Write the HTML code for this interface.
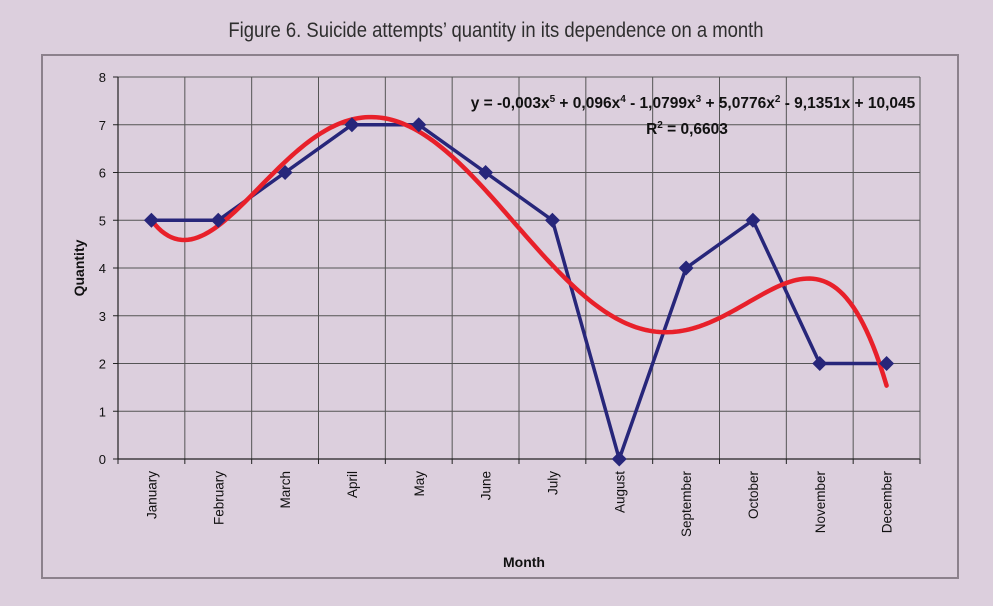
<!DOCTYPE html>
<html><head><meta charset="utf-8"><style>
html,body{margin:0;padding:0;background:#dccfdd;}
body{width:993px;height:601px;overflow:hidden;font-family:"Liberation Sans",sans-serif;}
</style></head><body>
<svg id="chart" width="993" height="601">
<rect x="0" y="0" width="993" height="601" fill="#dccfdd"/>
<text x="496" y="37" text-anchor="middle" font-size="21" fill="#2e2e2e" transform="translate(496 0) scale(0.88 1) translate(-496 0)">Figure 6. Suicide attempts’ quantity in its dependence on a month</text>
<rect x="42" y="55" width="916" height="523" fill="none" stroke="#8c818c" stroke-width="2"/>
<g id="grid"></g>
<g id="axes"></g>
<g id="series"></g>
<text x="693" y="108" text-anchor="middle" font-size="15.5" font-weight="bold" fill="#111">y = -0,003x<tspan dy="-6" font-size="10">5</tspan><tspan dy="6"> + 0,096x</tspan><tspan dy="-6" font-size="10">4</tspan><tspan dy="6"> - 1,0799x</tspan><tspan dy="-6" font-size="10">3</tspan><tspan dy="6"> + 5,0776x</tspan><tspan dy="-6" font-size="10">2</tspan><tspan dy="6"> - 9,1351x + 10,045</tspan></text>
<text x="687" y="134" text-anchor="middle" font-size="15.5" font-weight="bold" fill="#111">R<tspan dy="-6" font-size="10">2</tspan><tspan dy="6"> = 0,6603</tspan></text>
<text x="84" y="268" text-anchor="middle" font-size="14" font-weight="bold" fill="#111" transform="rotate(-90 84 268)">Quantity</text>
<text x="524" y="567" text-anchor="middle" font-size="14" font-weight="bold" fill="#111">Month</text>
</svg>
<script>
const months = ["January","February","March","April","May","June","July","August","September","October","November","December"];
const quantities = [5,5,6,7,7,6,5,0,4,5,2,2];
const yTicks = [0,1,2,3,4,5,6,7,8];
const NS = "http://www.w3.org/2000/svg";
const L = 118, R = 920, T = 77, B = 459;
const yMax = 8;
const band = (R - L) / months.length;
function xPos(i){ return L + band * (i + 0.5); }
function xCont(x){ return L + band * (x - 0.5); }
function yPos(v){ return B - (v / yMax) * (B - T); }
function mk(tag, attrs, parent){ const e = document.createElementNS(NS, tag); for (const k in attrs) e.setAttribute(k, attrs[k]); parent.appendChild(e); return e; }
const grid = document.getElementById('grid'), axes = document.getElementById('axes'), series = document.getElementById('series');
yTicks.forEach(v => {
  const y = yPos(v);
  if (v > 0) { const g = mk('line', {x1:L, x2:R, y1:y, y2:y, stroke:'#555', 'stroke-width':1}, grid);
    
     }
  const t = mk('line', {x1:L-5, x2:L, y1:y, y2:y, stroke:'#222', 'stroke-width':1}, axes);
  
  
  const lb = mk('text', {x:L-12, y:y+5, 'text-anchor':'end', 'font-size':13, fill:'#111'}, axes);
  lb.textContent = v;
  
  
});
for (let i = 1; i <= months.length; i++) {
  const x = L + band * i;
  const g = mk('line', {x1:x, x2:x, y1:T, y2:B, stroke:'#555', 'stroke-width':1}, grid);
  
  
}
for (let i = 0; i <= months.length; i++) {
  const x = L + band * i;
  const t = mk('line', {x1:x, x2:x, y1:B, y2:B+5, stroke:'#222', 'stroke-width':1}, axes);
  
  
}
const ya = mk('line', {x1:L, x2:L, y1:T, y2:B, stroke:'#222', 'stroke-width':1.2}, axes);


const xa = mk('line', {x1:L, x2:R, y1:B, y2:B, stroke:'#222', 'stroke-width':1.2}, axes);


const rt = mk('line', {x1:R, x2:R, y1:T, y2:B, stroke:'#555', 'stroke-width':1}, axes);


months.forEach((m, i) => {
  const x = xPos(i) + 5, y = B + 12;
  const t = mk('text', {x:x, y:y, 'text-anchor':'end', 'font-size':13.5, fill:'#111', transform:`rotate(-90 ${x} ${y})`}, axes);
  t.textContent = m;
  
  
});
function polyfit(xs, ys, deg){
  const c = 6.5, s = 5.5, n = deg + 1;
  const A = Array.from({length:n}, () => new Array(n+1).fill(0));
  xs.forEach((x, k) => { const u = (x - c) / s; const p = []; for (let j = 0; j < n; j++) p.push(Math.pow(u, j));
    for (let a = 0; a < n; a++) { for (let b = 0; b < n; b++) A[a][b] += p[a]*p[b]; A[a][n] += p[a]*ys[k]; } });
  for (let col = 0; col < n; col++) {
    let piv = col; for (let r = col+1; r < n; r++) if (Math.abs(A[r][col]) > Math.abs(A[piv][col])) piv = r;
    [A[col], A[piv]] = [A[piv], A[col]];
    for (let r = 0; r < n; r++) if (r !== col) { const f = A[r][col] / A[col][col]; for (let k = col; k <= n; k++) A[r][k] -= f * A[col][k]; }
  }
  const coef = A.map((row, i) => row[n] / row[i]);
  return x => { const u = (x - c) / s; let v = 0; for (let j = n-1; j >= 0; j--) v = v*u + coef[j]; return v; };
}
const fit = polyfit(quantities.map((_, i) => i + 1), quantities, 5);
let d = '';
for (let k = 0; k <= 220; k++) { const x = 1 + 11 * k / 220; d += (k ? 'L' : 'M') + xCont(x).toFixed(2) + ' ' + yPos(fit(x)).toFixed(2); }
let ld = '';
quantities.forEach((v, i) => { ld += (i ? 'L' : 'M') + xPos(i) + ' ' + yPos(v); });
const line = mk('path', {d:ld, fill:'none', stroke:'#27267a', 'stroke-width':3.5, 'stroke-linejoin':'round'}, series);


const trend = mk('path', {d:d, fill:'none', stroke:'#e8202a', 'stroke-width':4.5, 'stroke-linecap':'round'}, series);


quantities.forEach((v, i) => {
  const x = xPos(i), y = yPos(v), r = 7.5;
  const m = mk('polygon', {points:`${x},${y-r} ${x+r},${y} ${x},${y+r} ${x-r},${y}`, fill:'#27267a'}, series);
  
  
});
</script>
</body></html>
